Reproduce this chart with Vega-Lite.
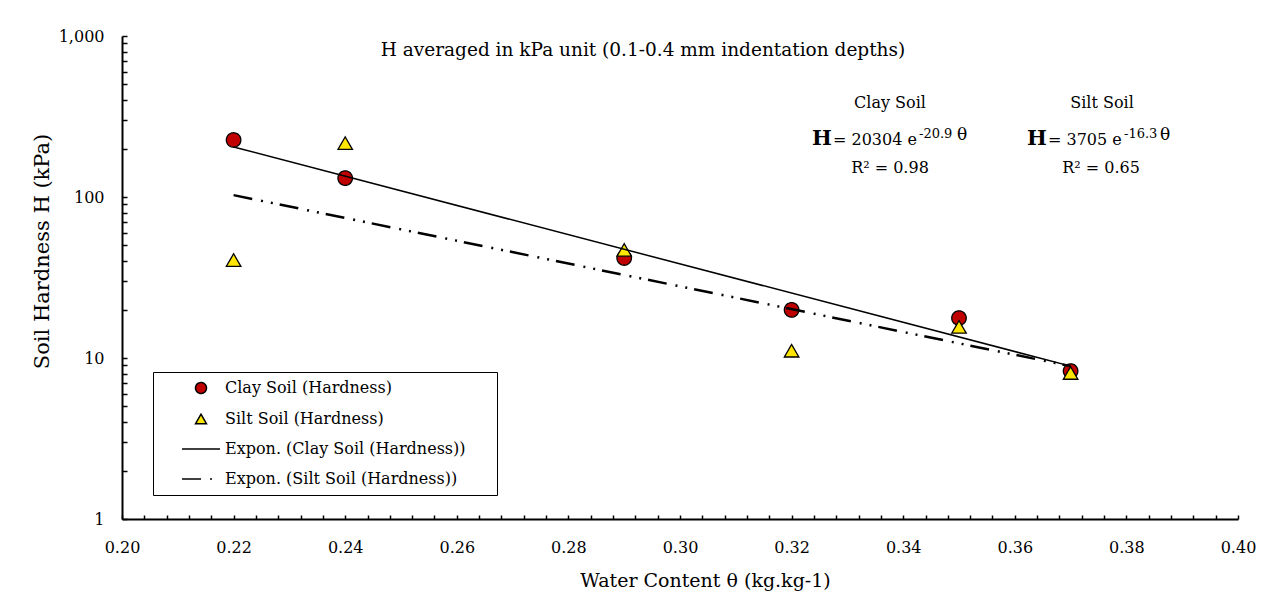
{
  "$schema": "https://vega.github.io/schema/vega-lite/v6.json",
  "width": 1116,
  "height": 483,
  "autosize": {"type": "none"},
  "padding": {"left": 122, "top": 36, "right": 36, "bottom": 75},
  "background": "white",
  "config": {
    "view": {"stroke": null},
    "font": "DejaVu Serif",
    "axis": {"labelFont": "DejaVu Serif", "titleFont": "DejaVu Serif", "labelColor": "black", "titleColor": "black", "domainColor": "black", "tickColor": "black", "grid": false, "titleFontWeight": "normal", "labelFlush": false, "labelOverlap": false},
    "legend": {"symbolStrokeWidth": 1.5, "symbolOpacity": 1}
  },
  "datasets": {
    "points": [
      {"theta": 0.22, "H": 226, "series": "Clay Soil (Hardness)"},
      {"theta": 0.24, "H": 131, "series": "Clay Soil (Hardness)"},
      {"theta": 0.29, "H": 41.8, "series": "Clay Soil (Hardness)"},
      {"theta": 0.32, "H": 19.9, "series": "Clay Soil (Hardness)"},
      {"theta": 0.35, "H": 17.7, "series": "Clay Soil (Hardness)"},
      {"theta": 0.37, "H": 8.3, "series": "Clay Soil (Hardness)"},
      {"theta": 0.22, "H": 40.6, "series": "Silt Soil (Hardness)"},
      {"theta": 0.24, "H": 216, "series": "Silt Soil (Hardness)"},
      {"theta": 0.29, "H": 46.9, "series": "Silt Soil (Hardness)"},
      {"theta": 0.32, "H": 11.1, "series": "Silt Soil (Hardness)"},
      {"theta": 0.35, "H": 15.6, "series": "Silt Soil (Hardness)"},
      {"theta": 0.37, "H": 8.07, "series": "Silt Soil (Hardness)"}
    ],
    "clayTrend": [
      {"theta": 0.22, "H": 204.5, "series": "Expon. (Clay Soil (Hardness))"},
      {"theta": 0.37, "H": 8.9, "series": "Expon. (Clay Soil (Hardness))"}
    ],
    "siltTrend": [
      {"theta": 0.22, "H": 102.7, "series": "Expon. (Silt Soil (Hardness))"},
      {"theta": 0.37, "H": 8.9, "series": "Expon. (Silt Soil (Hardness))"}
    ]
  },
  "encoding": {
    "x": {"field": "theta", "type": "quantitative", "scale": {"domain": [0.2, 0.4], "nice": false, "zero": false},
      "axis": {"title": "Water Content θ (kg.kg-1)", "values": [0.2,0.204,0.208,0.212,0.216,0.22,0.224,0.228,0.232,0.236,0.24,0.244,0.248,0.252,0.256,0.26,0.264,0.268,0.272,0.276,0.28,0.284,0.288,0.292,0.296,0.3,0.304,0.308,0.312,0.316,0.32,0.324,0.328,0.332,0.336,0.34,0.344,0.348,0.352,0.356,0.36,0.364,0.368,0.372,0.376,0.38,0.384,0.388,0.392,0.396,0.4],
        "labelExpr": "round(datum.value*1000)%20==0 ? format(datum.value,'.2f') : ''",
        "labelOverlap": false, "labelFlush": false,
        "tickSize": -4, "tickWidth": 1.5, "domainWidth": 2, "labelFontSize": 16, "labelPadding": 24,
        "titleFontSize": 19, "titleX": 583, "titleY": 61, "titleBaseline": "middle", "titleAlign": "center",
        "encode": {"ticks": {"update": {"y2": {"signal": "round(datum.value*1000)%20==0 ? -7 : -4"}}}}}},
    "y": {"field": "H", "type": "quantitative", "scale": {"type": "log", "domain": [1, 1000], "nice": false},
      "axis": {"title": "Soil Hardness H (kPa)", "values": [1,2,3,4,5,6,7,8,9,10,20,30,40,50,60,70,80,90,100,200,300,400,500,600,700,800,900,1000],
        "labelExpr": "indexof([1,10,100,1000], datum.value) >= 0 ? format(datum.value, ',') : ''",
        "labelOverlap": false, "labelFlush": false,
        "tickSize": -5, "tickWidth": 1.5, "domainWidth": 2, "labelFontSize": 16, "labelPadding": 23,
        "titleFontSize": 21, "titleX": -80, "titleY": 215, "titleBaseline": "middle", "titleAlign": "center", "titleAngle": -90}}
  },
  "layer": [
    {
      "data": {"name": "points"},
      "mark": {"type": "point", "filled": true, "strokeWidth": 1.3, "size": 210, "opacity": 1},
      "encoding": {
        "fill": {"field": "series", "type": "nominal",
          "scale": {"domain": ["Clay Soil (Hardness)", "Silt Soil (Hardness)", "Expon. (Clay Soil (Hardness))", "Expon. (Silt Soil (Hardness))"],
            "range": ["#C00000", "#FFE600", "#000000", "#000000"]},
          "legend": {"title": null, "orient": "none", "legendX": 31, "legendY": 336, "symbolSize": 121, "symbolStrokeWidth": 1.5, "symbolOpacity": 1,
            "labelFontSize": 16, "labelFont": "DejaVu Serif", "labelColor": "black", "labelOffset": 16, "symbolOffset": 32, "padding": 8, "rowPadding": 14,
            "strokeColor": "black", "fillColor": "white", "labelLimit": 500,
            "labelExpr": "datum.label + '\u2800\u2800'"}},
        "shape": {"field": "series", "type": "nominal",
          "scale": {"domain": ["Clay Soil (Hardness)", "Silt Soil (Hardness)", "Expon. (Clay Soil (Hardness))", "Expon. (Silt Soil (Hardness))"],
            "range": ["circle", "triangle-up", "M-3.45,0H3.45", "M-3.45,0H3.45"]},
          "legend": {"title": null, "orient": "none", "legendX": 31, "legendY": 336, "symbolSize": 121, "symbolStrokeWidth": 1.5, "symbolOpacity": 1,
            "labelFontSize": 16, "labelFont": "DejaVu Serif", "labelColor": "black", "labelOffset": 16, "symbolOffset": 32, "padding": 8, "rowPadding": 14,
            "strokeColor": "black", "fillColor": "white", "labelLimit": 500,
            "labelExpr": "datum.label + '\u2800\u2800'"}},
        "stroke": {"field": "series", "type": "nominal",
          "scale": {"domain": ["Clay Soil (Hardness)", "Silt Soil (Hardness)", "Expon. (Clay Soil (Hardness))", "Expon. (Silt Soil (Hardness))"],
            "range": ["#000000", "#000000", "#000000", "#000000"]},
          "legend": {"title": null, "orient": "none", "legendX": 31, "legendY": 336, "symbolSize": 121, "symbolStrokeWidth": 1.5, "symbolOpacity": 1,
            "labelFontSize": 16, "labelFont": "DejaVu Serif", "labelColor": "black", "labelOffset": 16, "symbolOffset": 32, "padding": 8, "rowPadding": 14,
            "strokeColor": "black", "fillColor": "white", "labelLimit": 500,
            "labelExpr": "datum.label + '\u2800\u2800'"}},
        "strokeDash": {"field": "series", "type": "nominal",
          "scale": {"domain": ["Clay Soil (Hardness)", "Silt Soil (Hardness)", "Expon. (Clay Soil (Hardness))", "Expon. (Silt Soil (Hardness))"],
            "range": [[1, 0], [1, 0], [1, 0], [19, 9, 2, 8, 2, 7]]},
          "legend": {"title": null, "orient": "none", "legendX": 31, "legendY": 336, "symbolSize": 121, "symbolStrokeWidth": 1.5, "symbolOpacity": 1,
            "labelFontSize": 16, "labelFont": "DejaVu Serif", "labelColor": "black", "labelOffset": 16, "symbolOffset": 32, "padding": 8, "rowPadding": 14,
            "strokeColor": "black", "fillColor": "white", "labelLimit": 500,
            "labelExpr": "datum.label + '\u2800\u2800'"}}
      }
    },
    {
      "data": {"name": "clayTrend"},
      "mark": {"type": "line", "color": "black", "strokeWidth": 1.5},
      "encoding": {}
    },
    {
      "data": {"name": "siltTrend"},
      "mark": {"type": "line", "color": "black", "strokeWidth": 2.5, "strokeDash": [19, 9, 2, 8, 2, 7]},
      "encoding": {}
    },
    {
      "data": {"values": [{"theta": 0.29337, "H": 818.6, "label": "H averaged in kPa unit (0.1-0.4 mm indentation depths)"}]},
      "mark": {"type": "text", "fontSize": 18.5, "align": "center", "baseline": "middle", "font": "DejaVu Serif", "color": "black"},
      "encoding": {"text": {"field": "label"}}
    },
    {
      "data": {"values": [{"theta": 0.33763, "H": 383.7, "label": "Clay Soil"}, {"theta": 0.37563, "H": 383.7, "label": "Silt Soil"}]},
      "mark": {"type": "text", "fontSize": 16, "align": "center", "baseline": "middle", "font": "DejaVu Serif", "color": "black"},
      "encoding": {"text": {"field": "label"}}
    },
    {
      "data": {"values": [{"theta": 0.32366, "H": 210.4, "label": "H"}, {"theta": 0.36219, "H": 210.4, "label": "H"}]},
      "mark": {"type": "text", "fontSize": 21, "fontWeight": "bold", "align": "left", "baseline": "alphabetic", "font": "DejaVu Serif", "color": "black"},
      "encoding": {"text": {"field": "label"}}
    },
    {
      "data": {"values": [{"theta": 0.32742, "H": 210.4, "label": "= 20304 e"}, {"theta": 0.36595, "H": 210.4, "label": "= 3705 e"}]},
      "mark": {"type": "text", "fontSize": 16, "align": "left", "baseline": "alphabetic", "font": "DejaVu Serif", "color": "black"},
      "encoding": {"text": {"field": "label"}}
    },
    {
      "data": {"values": [{"theta": 0.34283, "H": 232.5, "label": "-20.9"}, {"theta": 0.37957, "H": 232.5, "label": "-16.3"}]},
      "mark": {"type": "text", "fontSize": 13, "align": "left", "baseline": "alphabetic", "font": "DejaVu Serif", "color": "black"},
      "encoding": {"text": {"field": "label"}}
    },
    {
      "data": {"values": [{"theta": 0.34964, "H": 225.9, "label": "θ"}, {"theta": 0.38602, "H": 225.9, "label": "θ"}]},
      "mark": {"type": "text", "fontSize": 17, "align": "left", "baseline": "alphabetic", "font": "DejaVu Serif", "color": "black"},
      "encoding": {"text": {"field": "label"}}
    },
    {
      "data": {"values": [{"theta": 0.33763, "H": 141.0, "label": "R² = 0.98"}, {"theta": 0.37545, "H": 141.0, "label": "R² = 0.65"}]},
      "mark": {"type": "text", "fontSize": 16, "align": "center", "baseline": "alphabetic", "font": "DejaVu Serif", "color": "black"},
      "encoding": {"text": {"field": "label"}}
    }
  ]
}
